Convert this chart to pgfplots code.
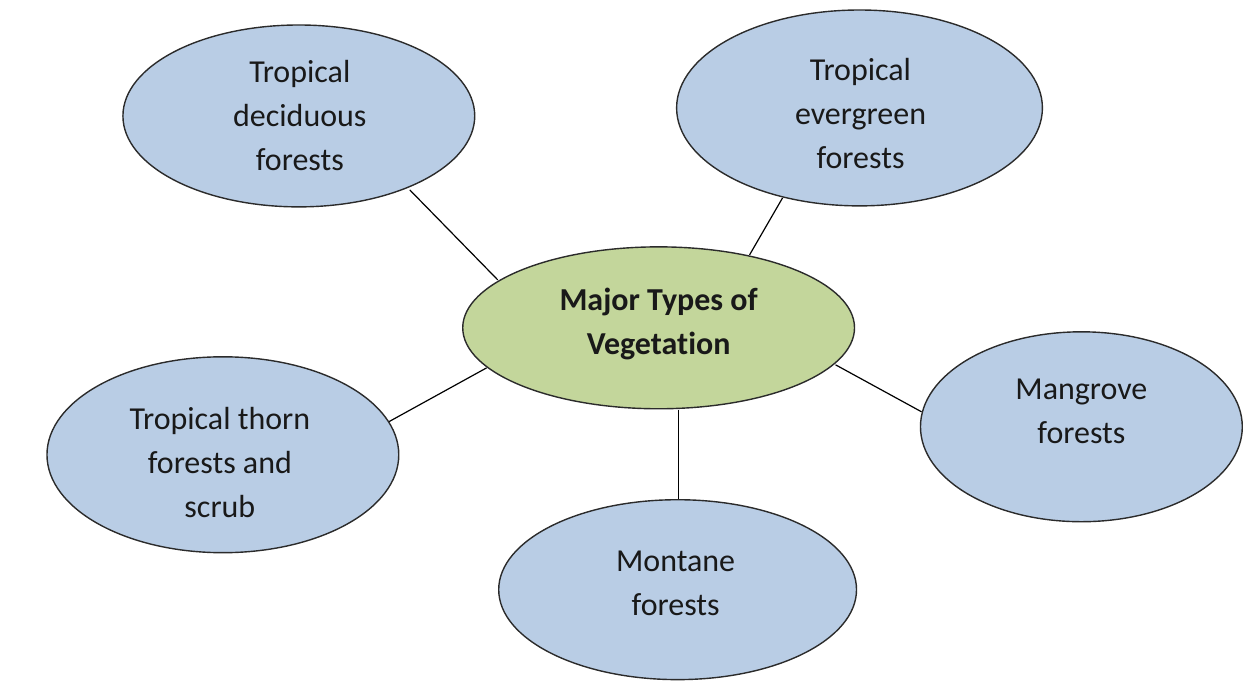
\documentclass[border=0pt]{standalone}
\usepackage{pgfplots}
\pgfplotsset{compat=1.18}
\usepackage{fontspec}
\setmainfont{Carlito}[Ligatures={NoCommon}]
\definecolor{bluefill}{HTML}{B9CDE5}
\definecolor{greenfill}{HTML}{C3D69B}
\definecolor{edge}{HTML}{2B2B2B}
\begin{document}
\begin{tikzpicture}
\begin{axis}[
  width=621.5pt, height=340.5pt, scale only axis,
  xmin=0, xmax=1243, ymin=0, ymax=681, y dir=reverse,
  hide axis, clip=false,
]
\path (axis cs:0,0) rectangle (axis cs:1243,681);
% connector lines
\addplot[black, line width=0.6pt] coordinates {(410,190) (498,280)};
\addplot[black, line width=0.6pt] coordinates {(783,198) (750,255)};
\addplot[black, line width=0.6pt] coordinates {(836,365) (922,412)};
\addplot[black, line width=0.6pt] coordinates {(487,368) (389,422)};
\addplot[black, line width=0.6pt] coordinates {(679,410) (679,503)};
% ellipses
\draw[edge, fill=bluefill, line width=0.7pt] (axis cs:299,116) ellipse [x radius=88pt, y radius=45.5pt];
\draw[edge, fill=bluefill, line width=0.7pt] (axis cs:860,108) ellipse [x radius=91.5pt, y radius=49pt];
\draw[edge, fill=greenfill, line width=0.7pt] (axis cs:659,328) ellipse [x radius=98pt, y radius=40.5pt];
\draw[edge, fill=bluefill, line width=0.7pt] (axis cs:1082,427) ellipse [x radius=80.5pt, y radius=47.5pt];
\draw[edge, fill=bluefill, line width=0.7pt] (axis cs:223,455) ellipse [x radius=88pt, y radius=49pt];
\draw[edge, fill=bluefill, line width=0.7pt] (axis cs:678,590) ellipse [x radius=89.5pt, y radius=45pt];
% texts
\tikzset{lab/.style={align=center, text=black!90, font=\fontsize{16}{22}\selectfont}}
\node[lab] at (axis cs:300,116) {Tropical\\deciduous\\forests};
\node[lab] at (axis cs:861,114) {Tropical\\evergreen\\forests};
\node[lab, font=\fontsize{16}{22}\selectfont\bfseries] at (axis cs:659,324) {Major Types of\\Vegetation};
\node[lab] at (axis cs:1082,412) {Mangrove\\forests};
\node[lab] at (axis cs:220,463) {Tropical thorn\\forests and\\scrub};
\node[lab] at (axis cs:676,584) {Montane\\forests};
\end{axis}
\end{tikzpicture}
\end{document}
